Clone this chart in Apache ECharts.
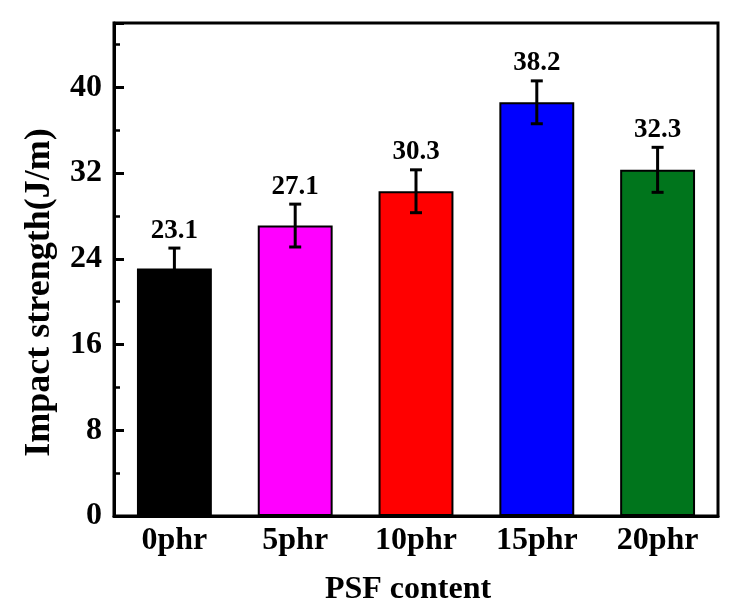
<!DOCTYPE html>
<html>
<head>
<meta charset="utf-8">
<script src="https://cdn.jsdelivr.net/npm/echarts@6/dist/echarts.min.js"></script>
<style>
  html, body { margin: 0; padding: 0; background: #fff; }
  #main { width: 735px; height: 604px; }
</style>
</head>
<body>
<div id="main"></div>
<script>
// 类别与数据
var categories = ['0phr', '5phr', '10phr', '15phr', '20phr'];
var values = [23.1, 27.1, 30.3, 38.6, 32.3];
var errors = [1.9, 2.0, 2.0, 2.0, 2.1];
var valueLabels = ['23.1', '27.1', '30.3', '38.2', '32.3'];
var barColors = ['#000000', '#ff00ff', '#ff0000', '#0000ff', '#00751c'];

var font = "'Liberation Serif', 'Times New Roman', serif";

var chart = echarts.init(document.getElementById('main'));

var option = {
  backgroundColor: '#fff',
  animation: false,
  grid: {
    left: 114, right: 17, top: 23, bottom: 88,
    outerBoundsMode: 'none',
    show: true, borderColor: '#000', borderWidth: 3
  },
  xAxis: {
    type: 'category',
    data: categories,
    name: 'PSF content',
    nameLocation: 'middle',
    nameGap: 58,
    nameTextStyle: { fontFamily: font, fontWeight: 'bold', fontSize: 32, color: '#000', padding: [0, 16, 0, 0] },
    axisLine: { lineStyle: { color: '#000', width: 3 } },
    axisTick: { show: false },
    axisLabel: { fontFamily: font, fontWeight: 'bold', fontSize: 32, color: '#000', margin: 9 }
  },
  yAxis: [
    {
      type: 'value',
      min: 0, max: 46, interval: 8,
      name: 'Impact strength(J/m)',
      nameLocation: 'middle',
      nameGap: 56,
      nameTextStyle: { fontFamily: font, fontWeight: 'bold', fontSize: 36, color: '#000', padding: [0, 46, 0, 0] },
      axisLine: { show: true, lineStyle: { color: '#000', width: 3 } },
      axisTick: { show: true, inside: true, length: 10, lineStyle: { color: '#000', width: 3 } },
      axisLabel: {
        fontFamily: font, fontWeight: 'bold', fontSize: 32, color: '#000', margin: 12,
        formatter: function (v) { return v % 8 === 0 ? String(v) : ''; }
      },
      splitLine: { show: false }
    },
    {
      // 次刻度
      type: 'value',
      position: 'left',
      min: 0, max: 46, interval: 4,
      axisLine: { show: false },
      axisTick: { show: true, inside: true, length: 6, lineStyle: { color: '#000', width: 2.5 } },
      axisLabel: { show: false },
      splitLine: { show: false }
    }
  ],
  series: [
    {
      type: 'bar',
      barWidth: '62%',
      data: values.map(function (v, i) {
        return { value: v, itemStyle: { color: barColors[i], borderColor: '#000', borderWidth: 2 } };
      }),
      z: 2
    },
    {
      // 误差棒 + 数值
      type: 'custom',
      z: 3,
      data: values.map(function (v, i) { return [i, v, errors[i]]; }),
      renderItem: function (params, api) {
        var i = api.value(0), v = api.value(1), e = api.value(2);
        var top = api.coord([i, v + e]);
        var bot = api.coord([i, v - e]);
        var hw = 6;
        var st = { stroke: '#000', lineWidth: 3 };
        return {
          type: 'group',
          children: [
            { type: 'line', shape: { x1: top[0], y1: top[1], x2: bot[0], y2: bot[1] }, style: st },
            { type: 'line', shape: { x1: top[0] - hw, y1: top[1], x2: top[0] + hw, y2: top[1] }, style: st },
            { type: 'line', shape: { x1: bot[0] - hw, y1: bot[1], x2: bot[0] + hw, y2: bot[1] }, style: st },
            {
              type: 'text',
              x: top[0], y: top[1] - 4,
              style: {
                text: valueLabels[params.dataIndex],
                fontFamily: font, fontWeight: 'bold', fontSize: 27, fill: '#000',
                align: 'center', verticalAlign: 'bottom'
              }
            }
          ]
        };
      }
    }
  ]
};

chart.setOption(option);
</script>
</body>
</html>
